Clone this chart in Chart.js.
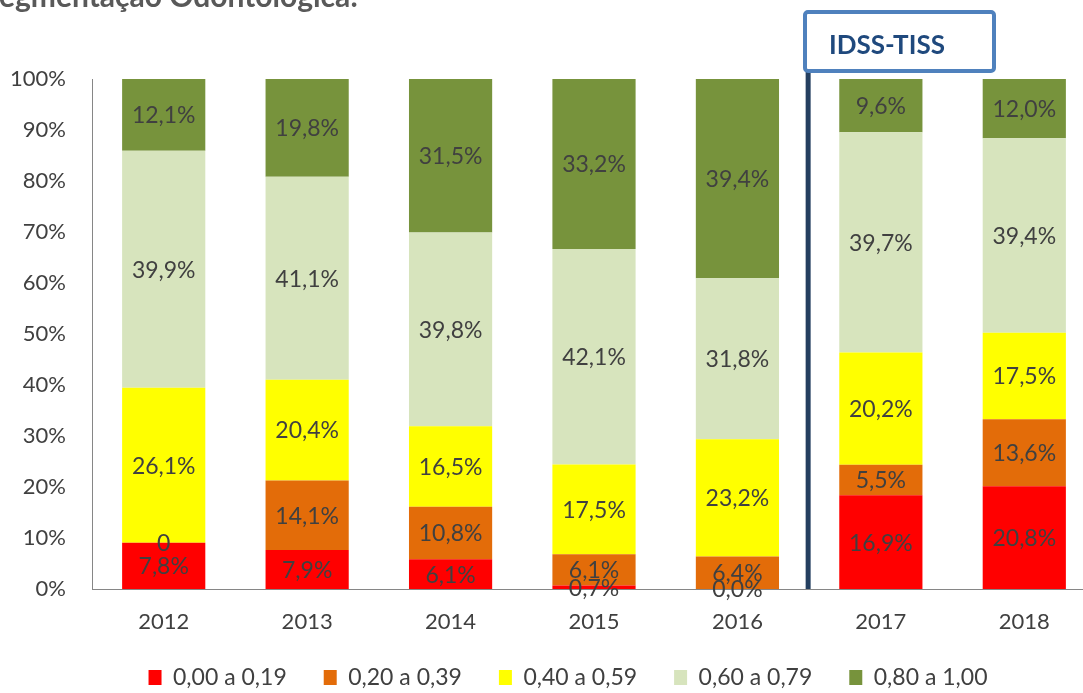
<!DOCTYPE html>
<html>
<head>
<meta charset="utf-8">
<script src="https://cdn.jsdelivr.net/npm/chart.js@4/dist/chart.umd.min.js"></script>
<style>
  html, body { margin: 0; padding: 0; overflow: hidden; background: #fff; }
  #wrap { position: relative; width: 1100px; height: 693px; }
</style>
</head>
<body>
<div id="wrap"><canvas id="chart"></canvas></div>
<script>
const years = ['2012', '2013', '2014', '2015', '2016', '2017', '2018'];
const seriesNames = ['0,00 a 0,19', '0,20 a 0,39', '0,40 a 0,59', '0,60 a 0,79', '0,80 a 1,00'];
const seriesColors = ['#FF0000', '#E36C09', '#FFFF00', '#D7E4BD', '#77933C'];

// valores (%), por faixa
const faixa1 = [7.8, 7.9, 6.1, 0.7, 0.0, 16.9, 20.8];
const faixa2 = [0, 14.1, 10.8, 6.1, 6.4, 5.5, 13.6];
const faixa3 = [26.1, 20.4, 16.5, 17.5, 23.2, 20.2, 17.5];
const faixa4 = [39.9, 41.1, 39.8, 42.1, 31.8, 39.7, 39.4];
const faixa5 = [12.1, 19.8, 31.5, 33.2, 39.4, 9.6, 12.0];
const allSeries = [faixa1, faixa2, faixa3, faixa4, faixa5];

// rótulo especial (2012, faixa 0,20-0,39 aparece como "0")
const labelOverrides = { '1-0': '0' };

const yTicks = [0, 10, 20, 30, 40, 50, 60, 70, 80, 90, 100];

// barras empilhadas em 100%
const totals = years.map((_, i) => allSeries.reduce((s, arr) => s + arr[i], 0));

const fmt = v => v.toFixed(1).replace('.', ',') + '%';
const FONT = 'Lato, "Noto Sans", sans-serif';

const datasets = allSeries.map((arr, k) => ({
    label: seriesNames[k],
    data: arr.map((v, i) => v / totals[i] * 100),
    raw: arr,
    backgroundColor: seriesColors[k],
    borderWidth: 0
}));

const labelsPlugin = {
    id: 'barLabels',
    afterLayout(chart) {
        // legenda um pouco deslocada para a direita, como no original
        if (chart.legend) { chart.legend.left += 20; chart.legend.right += 20; }
    },
    afterDatasetsDraw(chart) {
        const ctx = chart.ctx;
        ctx.save();
        ctx.font = '23px ' + FONT;
        ctx.fillStyle = '#404040';
        ctx.textAlign = 'center';
        ctx.textBaseline = 'middle';
        chart.data.datasets.forEach((ds, k) => {
            chart.getDatasetMeta(k).data.forEach((bar, i) => {
                const txt = labelOverrides[k + '-' + i] || fmt(ds.raw[i]);
                ctx.fillText(txt, bar.x, (bar.y + bar.base) / 2 + 1);
            });
        });
        ctx.restore();
    }
};

const decorPlugin = {
    id: 'decor',
    afterDraw(chart) {
        const ctx = chart.ctx;
        const x = chart.scales.x;
        const y = chart.scales.y;
        ctx.save();

        // título cortado no topo
        ctx.font = 'bold 30px ' + FONT;
        ctx.fillStyle = '#595959';
        ctx.textBaseline = 'alphabetic';
        ctx.textAlign = 'left';
        const sw = ctx.measureText('S').width;
        ctx.fillText('Segmentação Odontológica:', -sw - 1, 7);

        // linha divisória IDSS-TISS
        const xd = (x.getPixelForValue(4) + x.getPixelForValue(5)) / 2 - 1;
        ctx.strokeStyle = '#243F60';
        ctx.lineWidth = 5;
        ctx.beginPath();
        ctx.moveTo(xd, 72);
        ctx.lineTo(xd, y.getPixelForValue(0));
        ctx.stroke();

        // caixa IDSS-TISS
        ctx.strokeStyle = '#4F81BD';
        ctx.lineWidth = 4;
        ctx.fillStyle = '#fff';
        ctx.beginPath();
        ctx.roundRect(805, 12, 189, 59, 3);
        ctx.fill();
        ctx.stroke();
        ctx.font = 'bold 26px ' + FONT;
        ctx.fillStyle = '#1F497D';
        ctx.textBaseline = 'middle';
        ctx.fillText('IDSS-TISS', 829, 46);
        ctx.restore();
    }
};

new Chart(document.getElementById('chart'), {
    type: 'bar',
    data: { labels: years, datasets },
    options: {
        responsive: true,
        maintainAspectRatio: false,
        animation: false,
        layout: { padding: { top: 79, right: 4, left: 0, bottom: 0 } },
        datasets: { bar: { categoryPercentage: 1, barPercentage: 0.58 } },
        plugins: {
            legend: {
                position: 'bottom',
                maxHeight: 64,
                labels: {
                    font: { family: FONT, size: 23 },
                    color: '#404040',
                    boxWidth: 13,
                    boxHeight: 15,
                    padding: 37
                }
            },
            tooltip: { enabled: false }
        },
        scales: {
            x: {
                stacked: true,
                afterFit: s => { s.height = 40; },
                grid: { display: false, drawTicks: false },
                border: { display: true, color: '#868686', width: 1 },
                ticks: { color: '#404040', font: { family: FONT, size: 22 }, padding: 20 }
            },
            y: {
                stacked: true,
                min: 0,
                max: 100,
                afterFit: s => { s.width = 92; },
                afterBuildTicks: s => { s.ticks = yTicks.map(v => ({ value: v })); },
                grid: { display: false, drawTicks: false },
                border: { display: true, color: '#868686', width: 1 },
                ticks: {
                    color: '#404040',
                    font: { family: FONT, size: 22 },
                    padding: 26,
                    callback: v => v + '%'
                }
            }
        }
    },
    plugins: [labelsPlugin, decorPlugin]
});
</script>
</body>
</html>
